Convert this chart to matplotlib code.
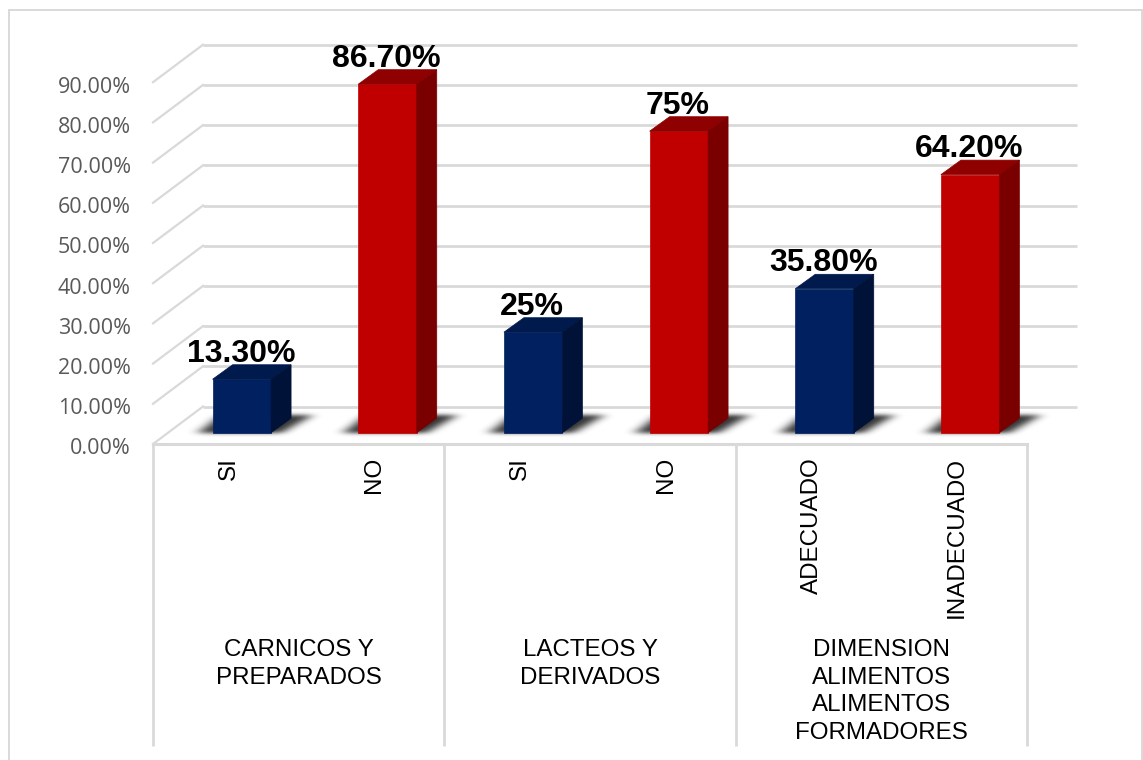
import numpy as np
import matplotlib
matplotlib.use('Agg')
import matplotlib.pyplot as plt
from matplotlib.patches import Polygon, Rectangle

plt.rcParams['font.family'] = ['Liberation Sans', 'DejaVu Sans']

# data
bar_labels = ['SI', 'NO', 'SI', 'NO', 'ADECUADO', 'INADECUADO']
group_labels = ['CARNICOS Y\nPREPARADOS', 'LACTEOS Y\nDERIVADOS', 'DIMENSION\nALIMENTOS\nALIMENTOS\nFORMADORES']
group_sizes = [2, 2, 2]
values = [13.3, 86.7, 25, 75, 35.8, 64.2]
value_labels = ['13.30%', '86.70%', '25%', '75%', '35.80%', '64.20%']
y_ticks = [0, 10, 20, 30, 40, 50, 60, 70, 80, 90]

W, H = 1143, 760
FRONT_LEFT, FRONT_RIGHT, FRONT_Y = 153, 1027, 444
PX_PER_UNIT = 4.02
CAT_W = (FRONT_RIGHT - FRONT_LEFT) / 6

GRID = '#d9d9d9'
BLUE = ('#002060', '#001a4d', '#001238')
RED = ('#c00000', '#8f0000', '#7a0000')

fig = plt.figure(figsize=(W / 100, H / 100), dpi=100)
ax = fig.add_axes([FRONT_LEFT / W, 1 - FRONT_Y / H, (FRONT_RIGHT - FRONT_LEFT) / W, 100 * PX_PER_UNIT / H])
ax.axis('off')

# depth offsets in data units
wall_dx, wall_dy = 50 / CAT_W, 37.5 / PX_PER_UNIT
bar_w = 58.5 / CAT_W
shift_dx, shift_dy = 16 / CAT_W, 11.3 / PX_PER_UNIT
bar_dx, bar_dy = 20 / CAT_W, 14.5 / PX_PER_UNIT
ux, uy = 1 / CAT_W, 1 / PX_PER_UNIT


def py(y):
	# pixel row from the top, to data units
	return (FRONT_Y - y) / PX_PER_UNIT


def blur(a, sigma, axis):
	k = np.exp(-0.5 * (np.arange(-15, 16) / sigma) ** 2)
	k = k / k.sum()
	return np.apply_along_axis(lambda r: np.convolve(r, k, mode='same'), axis, a)


def floor_shadow(x0, y0):
	# blurred parallelogram under one bar, sized in pixels from the bar's lower left corner
	gx, gy = np.meshgrid(np.arange(-45, 125), np.arange(-8, 32))
	bar_px = bar_w * CAT_W
	mask = (gy >= 0) & (gy <= 17) & (gx >= -15 + gy * 1.3) & (gx <= bar_px + 10 + gy * 1.75)
	soft = blur(blur(mask.astype(float), 6, 1), 2, 0)
	rgba = np.zeros(soft.shape + (4,))
	rgba[..., 3] = soft * 0.8
	ax.imshow(rgba, origin='lower', aspect='auto', interpolation='bilinear', zorder=2, clip_on=False,
		extent=(x0 - 45 * ux, x0 + 125 * ux, y0 - 8 * uy, y0 + 32 * uy))


# outer frame, open at the bottom
fig.add_artist(Rectangle((8.5 / W, -1), 1133.5 / W, 1 + (H - 10) / H, transform=fig.transFigure,
	fill=False, ec=GRID, lw=1.4))

# gridlines: wall and side
for g in y_ticks:
	ax.plot([-0.5 + wall_dx, 5.5 + wall_dx], [g + wall_dy, g + wall_dy], color=GRID, lw=2, clip_on=False, solid_capstyle='butt', zorder=1)
	ax.plot([-0.5, -0.5 + wall_dx], [g, g + wall_dy], color=GRID, lw=1.6, clip_on=False, zorder=1)
ax.plot([-0.5, 5.5], [0, 0], color=GRID, lw=2.2, clip_on=False, zorder=1)

# bars
for i, v in enumerate(values):
	front, top, side = BLUE if i in (0, 2, 4) else RED
	x0 = i - bar_w / 2 + shift_dx
	x1 = x0 + bar_w
	y0 = shift_dy
	y1 = y0 + v
	floor_shadow(x0, y0)
	ax.bar(x0, v, width=bar_w, bottom=y0, align='edge', color=front, ec=front, lw=0.5, zorder=4, clip_on=False)
	ax.add_patch(Polygon([(x0, y1), (x1, y1), (x1 + bar_dx, y1 + bar_dy), (x0 + bar_dx, y1 + bar_dy)], closed=True, fc=top, ec=top, lw=0.5, zorder=4, clip_on=False))
	ax.add_patch(Polygon([(x1, y0), (x1 + bar_dx, y0 + bar_dy), (x1 + bar_dx, y1 + bar_dy), (x1, y1)], closed=True, fc=side, ec=side, lw=0.5, zorder=4, clip_on=False))
	ax.text(i + shift_dx - 1 * ux, y1 + bar_dy - 1.0, value_labels[i], ha='center', va='bottom', fontsize=23, fontweight='bold', color='black', zorder=6, clip_on=False)

# y tick labels
for t in y_ticks:
	ax.text(-0.5 - 22 * ux, t - 1.2, '%.2f%%' % t, ha='right', va='center', fontsize=15.5, family=['Open Sans', 'DejaVu Sans'], color='#595959', clip_on=False)

# category axis table
x_bottom = py(746)
edges = [0]
for s in group_sizes:
	edges.append(edges[-1] + s)
for e in edges:
	ax.plot([e - 0.5, e - 0.5], [0, x_bottom], color=GRID, lw=2, clip_on=False, solid_capstyle='butt', zorder=1)

label_top = py(457)
for i, lab in enumerate(bar_labels):
	ax.text(i + 3 * ux, label_top, lab, rotation=90, ha='center', va='top', fontsize=17.4, color='black', clip_on=False)

group_top = py(639)
for j, lab in enumerate(group_labels):
	center = (edges[j] + edges[j + 1]) / 2 - 0.5
	ax.text(center, group_top, lab, ha='center', va='top', fontsize=17.4, color='black', linespacing=1.33, clip_on=False)

# imshow resets the limits, so they go last
ax.set_xlim(-0.5, 5.5)
ax.set_ylim(0, 100)

fig.savefig('out.png', dpi=100)
